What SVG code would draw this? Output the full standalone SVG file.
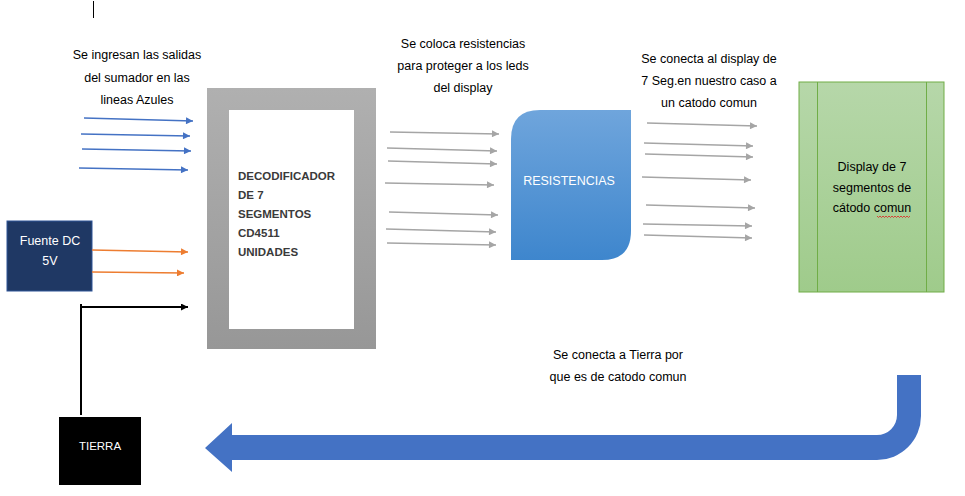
<svg xmlns="http://www.w3.org/2000/svg" width="965" height="496" viewBox="0 0 965 496">
<style>
.t{font-family:"Liberation Sans",Arial,sans-serif;font-size:12.5px;fill:#000;text-anchor:middle}
.w{fill:#fff}
.dec{font-family:"Liberation Sans",Arial,sans-serif;font-size:11.5px;font-weight:bold;fill:#3a3a3a}
.blue{stroke:#4472C4;stroke-width:1.6;fill:none}
.orange{stroke:#ED7D31;stroke-width:1.6;fill:none}
.gray{stroke:#A5A5A5;stroke-width:1.6;fill:none}
.blk{stroke:#000;stroke-width:2;fill:none}
</style>
<defs>
<marker id="mb" viewBox="0 0 10 10" refX="10" refY="5" markerUnits="userSpaceOnUse" markerWidth="9" markerHeight="7" orient="auto"><path d="M0,0L10,5L0,10Z" fill="#4472C4"/></marker>
<marker id="mo" viewBox="0 0 10 10" refX="10" refY="5" markerUnits="userSpaceOnUse" markerWidth="9" markerHeight="7" orient="auto"><path d="M0,0L10,5L0,10Z" fill="#ED7D31"/></marker>
<marker id="mg" viewBox="0 0 10 10" refX="10" refY="5" markerUnits="userSpaceOnUse" markerWidth="9" markerHeight="7" orient="auto"><path d="M0,0L10,5L0,10Z" fill="#A5A5A5"/></marker>
<marker id="mk" viewBox="0 0 10 10" refX="10" refY="5" markerUnits="userSpaceOnUse" markerWidth="9" markerHeight="7" orient="auto"><path d="M0,0L10,5L0,10Z" fill="#000"/></marker>
<linearGradient id="gGray" x1="0" y1="0" x2="0" y2="1"><stop offset="0" stop-color="#B0B0B0"/><stop offset="1" stop-color="#979797"/></linearGradient>
<linearGradient id="gBlue" x1="0" y1="0" x2="0" y2="1"><stop offset="0" stop-color="#6FA5DC"/><stop offset="1" stop-color="#3E86CD"/></linearGradient>
<linearGradient id="gGreen" x1="0" y1="0" x2="0" y2="1"><stop offset="0" stop-color="#B6D7A9"/><stop offset="1" stop-color="#9FCB8B"/></linearGradient>
</defs>
<rect width="965" height="496" fill="#fff"/>
<line x1="93.5" y1="1" x2="93.5" y2="18" stroke="#000" stroke-width="1"/>

<g id="label-inputs">
<text class="t" x="137" y="59">Se ingresan las salidas</text>
<text class="t" x="137" y="82">del sumador en las</text>
<text class="t" x="137" y="104">lineas Azules</text>
</g>
<g id="label-resist">
<text class="t" x="463" y="48">Se coloca resistencias</text>
<text class="t" x="463" y="70">para proteger a los leds</text>
<text class="t" x="463" y="92">del display</text>
</g>
<g id="label-display">
<text class="t" x="709" y="63">Se conecta al display de</text>
<text class="t" x="709" y="85">7 Seg.en nuestro caso a</text>
<text class="t" x="709" y="107">un catodo comun</text>
</g>
<g id="label-ground">
<text class="t" x="618" y="359">Se conecta a Tierra por</text>
<text class="t" x="618" y="381">que es de catodo comun</text>
</g>

<g id="fuente">
<rect x="7" y="221" width="85" height="70" fill="#1F3864" stroke="#2F5597" stroke-width="1"/>
<text class="t w" x="50" y="245">Fuente DC</text>
<text class="t w" x="50" y="265">5V</text>
</g>

<g id="tierra">
<rect x="59" y="417" width="82" height="68" fill="#000"/>
<text class="t w" x="100" y="450" style="font-size:11.5px">TIERRA</text>
</g>

<g id="decodificador">
<rect x="207" y="88" width="169" height="261" fill="url(#gGray)"/>
<rect x="229" y="110" width="125" height="219" fill="#fff"/>
<text class="dec" x="238" y="180">DECODIFICADOR</text>
<text class="dec" x="238" y="199">DE 7</text>
<text class="dec" x="238" y="218">SEGMENTOS</text>
<text class="dec" x="238" y="237">CD4511</text>
<text class="dec" x="238" y="256">UNIDADES</text>
</g>

<g id="resistencias">
<path d="M540,110 L631,110 L631,231 Q631,260 602,260 L511,260 L511,139 Q511,110 540,110 Z" fill="url(#gBlue)"/>
<text class="t w" x="569" y="185">RESISTENCIAS</text>
</g>

<g id="display">
<rect x="799" y="82" width="145" height="210" fill="url(#gGreen)" stroke="#70AD47" stroke-width="1"/>
<line x1="817.5" y1="82" x2="817.5" y2="292" stroke="#70AD47" stroke-width="1"/>
<line x1="926.5" y1="82" x2="926.5" y2="292" stroke="#70AD47" stroke-width="1"/>
<text class="t" x="872" y="171">Display de 7</text>
<text class="t" x="872" y="192">segmentos de</text>
<text class="t" x="872" y="212">cátodo comun</text>
<path d="M877,216 l1.5,1.5 l1.5,-1.5 l1.5,1.5 l1.5,-1.5 l1.5,1.5 l1.5,-1.5 l1.5,1.5 l1.5,-1.5 l1.5,1.5 l1.5,-1.5 l1.5,1.5 l1.5,-1.5 l1.5,1.5 l1.5,-1.5 l1.5,1.5 l1.5,-1.5 l1.5,1.5 l1.5,-1.5 l1.5,1.5 l1.5,-1.5 l1.5,1.5 l1.5,-1.5" fill="none" stroke="#E02020" stroke-width="0.8"/>
</g>

<g id="connectors">
<line class="blue" x1="84" y1="118" x2="193" y2="121" marker-end="url(#mb)"/>
<line class="blue" x1="81" y1="134" x2="190" y2="136" marker-end="url(#mb)"/>
<line class="blue" x1="82" y1="149" x2="191" y2="151" marker-end="url(#mb)"/>
<line class="blue" x1="79" y1="168" x2="188" y2="170" marker-end="url(#mb)"/>
<line class="orange" x1="92" y1="250" x2="188" y2="252" marker-end="url(#mo)"/>
<line class="orange" x1="92" y1="272" x2="184" y2="273" marker-end="url(#mo)"/>
<line class="blk" x1="81" y1="415" x2="81" y2="304"/>
<line class="blk" x1="80" y1="307" x2="188" y2="307" marker-end="url(#mk)"/>

<line class="gray" x1="390" y1="132" x2="499" y2="134" marker-end="url(#mg)"/>
<line class="gray" x1="387" y1="148" x2="497" y2="151" marker-end="url(#mg)"/>
<line class="gray" x1="388" y1="161" x2="497" y2="164" marker-end="url(#mg)"/>
<line class="gray" x1="385" y1="183" x2="494" y2="185" marker-end="url(#mg)"/>
<line class="gray" x1="389" y1="212" x2="498" y2="215" marker-end="url(#mg)"/>
<line class="gray" x1="386" y1="229" x2="496" y2="232" marker-end="url(#mg)"/>
<line class="gray" x1="387" y1="243" x2="496" y2="245" marker-end="url(#mg)"/>

<line class="gray" x1="647" y1="123" x2="757" y2="126" marker-end="url(#mg)"/>
<line class="gray" x1="644" y1="143" x2="753" y2="146" marker-end="url(#mg)"/>
<line class="gray" x1="645" y1="154" x2="753" y2="157" marker-end="url(#mg)"/>
<line class="gray" x1="642" y1="177" x2="751" y2="180" marker-end="url(#mg)"/>
<line class="gray" x1="646" y1="205" x2="755" y2="208" marker-end="url(#mg)"/>
<line class="gray" x1="643" y1="224" x2="752" y2="226" marker-end="url(#mg)"/>
<line class="gray" x1="644" y1="235" x2="752" y2="238" marker-end="url(#mg)"/>

<path d="M205,448 L232,423 L232,435 L877,435 A20,20 0 0 0 897,415 L897,375 L921,375 L921,416 A44,44 0 0 1 877,460 L232,460 L232,472 Z" fill="#4472C4"/>
</g>
</svg>
